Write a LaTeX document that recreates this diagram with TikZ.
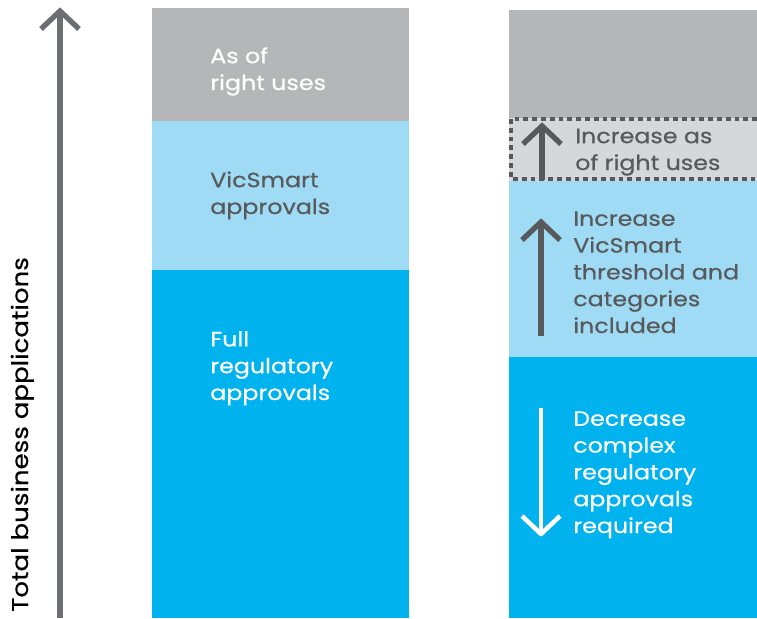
\documentclass[tikz,border=0pt]{standalone}
\usepackage{fontspec}
\setmainfont{Poppins}[FakeStretch=1.15,FakeBold=0.5]
\begin{document}
\definecolor{asgray}{HTML}{B5B6B8}
\definecolor{paleblue}{HTML}{9FDBF5}
\definecolor{vicblue}{HTML}{00B2EE}
\definecolor{palegray}{HTML}{D6D7D9}
\definecolor{darktext}{HTML}{58595B}
\definecolor{axisgray}{HTML}{6D6E71}
\begin{tikzpicture}[x=0.75pt,y=-0.75pt,
  % labels are placed by the baseline of their last line
  lbl/.style={anchor=base west,align=left,font=\fontsize{15.5}{20.1}\selectfont,inner sep=0pt},
  whitelbl/.style={lbl,text=white},
  darklbl/.style={lbl,text=darktext},
  shaft/.style={line width=4pt,line cap=butt},
  chevron/.style={line width=4pt,line join=miter,line cap=butt}]
\useasboundingbox (0,0) rectangle (757,618);

% left column
\fill[asgray]   (152,8)   rectangle (409,121);
\fill[paleblue] (152,121) rectangle (409,270);
\fill[vicblue]  (152,270) rectangle (409,618);

% right column
\fill[asgray]   (509,10)  rectangle (757,118);
\fill[palegray] (509,118) rectangle (757,181);
\fill[paleblue] (509,181) rectangle (757,357);
\fill[vicblue]  (509,357) rectangle (757,618);
\draw[darktext,line width=3pt,dash pattern=on 3.6pt off 3pt]
  (757,118.5) -- (511,118.5) -- (511,178.5) -- (757,178.5);

% vertical axis
\coordinate (axbot) at (60,618);
\coordinate (axtop) at (60,11);
\draw[axisgray,shaft] (axbot) -- (axtop);
\draw[axisgray,chevron] ([shift={(-19,18)}]axtop) -- (axtop) -- ([shift={(19,18)}]axtop);
\node[rotate=90,anchor=base west,inner sep=0pt,font=\fontsize{17}{20}\selectfont] (axlabel) at (28,612) {Total business applications};

% left labels
\node[whitelbl] (asof)  at (210,90)  {As of\\right uses};
\node[darklbl]  (vicl)  at (210,214) {VicSmart\\approvals};
\node[whitelbl] (full)  at (210,400) {Full\\regulatory\\approvals};

% right labels
\node[darklbl]  (incas)  at (575,170) {Increase as\\of right uses};
\node[darklbl]  (incvic) at (573,333) {Increase\\VicSmart\\threshold and\\categories\\included};
\node[whitelbl] (dec)    at (573,533) {Decrease\\complex\\regulatory\\approvals\\required};

% change arrows
\coordinate (a1b) at (542,180);
\coordinate (a1t) at (542,126);
\draw[darktext,shaft] (a1b) -- (a1t);
\draw[darktext,chevron] ([shift={(-19,18)}]a1t) -- (a1t) -- ([shift={(19,18)}]a1t);

\coordinate (a2b) at (541,336);
\coordinate (a2t) at (541,222);
\draw[darktext,shaft] (a2b) -- (a2t);
\draw[darktext,chevron] ([shift={(-19,18)}]a2t) -- (a2t) -- ([shift={(19,18)}]a2t);

\coordinate (a3t) at (541,408);
\coordinate (a3b) at (541,534);
\draw[white,shaft,line width=3.4pt] (a3t) -- (a3b);
\draw[white,chevron,line width=3.4pt,line join=round] ([shift={(-19,-18)}]a3b) -- (a3b) -- ([shift={(19,-18)}]a3b);
\end{tikzpicture}
\end{document}
